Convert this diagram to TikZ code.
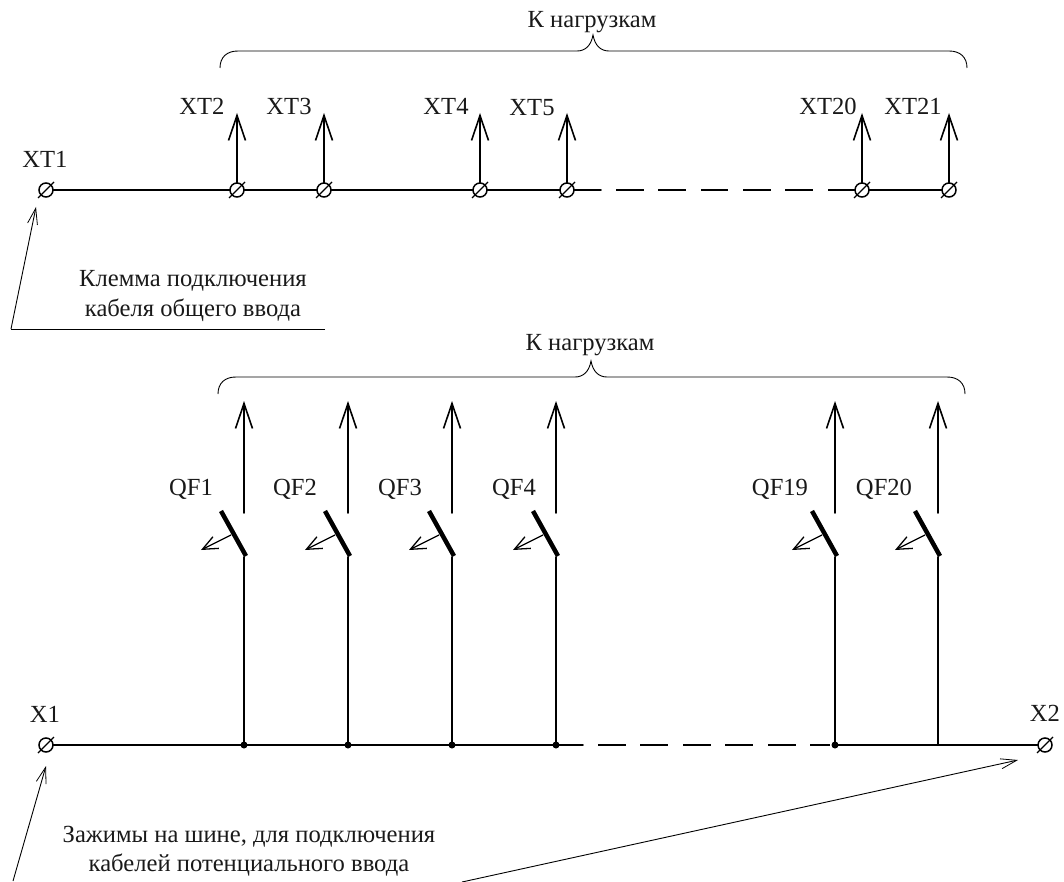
\documentclass[tikz,border=0pt]{standalone}
\usepackage{fontspec}
\setmainfont{Liberation Serif}
\usetikzlibrary{arrows.meta}
\tikzset{
  wire/.style={line width=1.8pt,line cap=round},
  load/.style={wire,-{Straight Barb[length=25pt,width=17pt,line width=1.6pt]}},
  leader/.style={line width=0.9pt,-{Straight Barb[length=16pt,width=10pt,line width=0.8pt]}},
  plain leader/.style={line width=0.9pt},
  term/.style={circle,draw,line width=1.5pt,minimum size=14pt,inner sep=0pt,fill=white},
  dot/.style={circle,fill=black,minimum size=7pt,inner sep=0pt},
  lab/.style={font=\fontsize{24.6pt}{29pt}\selectfont,inner sep=0pt,text=black!90},
  captext/.style={font=\fontsize{24.6pt}{29.5pt}\selectfont,inner sep=0pt,align=center,text=black!90},
  blade/.style={line width=4.5pt},
  trip/.style={line width=1.3pt,-{Straight Barb[length=15pt,width=13pt,line width=1.3pt]}}
}
\newcommand{\brc}[4]{% left x, right x, center x, top y
  \draw[line width=0.9pt] (#1,#4+17) .. controls (#1,#4+6) and (#1+7,#4) .. (#1+18,#4)
    -- (#3-16,#4) .. controls (#3-8,#4) and (#3-2,#4-5) .. (#3,#4-16)
    .. controls (#3+2,#4-5) and (#3+8,#4) .. (#3+16,#4)
    -- (#2-18,#4) .. controls (#2-7,#4) and (#2,#4+6) .. (#2,#4+17);}
\begin{document}
\begin{tikzpicture}[x=1pt,y=-1pt]
\useasboundingbox (0,0) rectangle (1064,882);
% top bus
\foreach \n/\x in {xt1/46,xt2/237,xt3/324,xt4/480,xt5/567,xt20/862,xt21/949}
  \coordinate (p\n) at (\x,190);
\draw[wire] (pxt1) -- (601,190);
\draw[wire] (pxt20) -- (pxt21);
\foreach \a/\b in {616/643.7,658/686,701/728,743/771,785/813,828/862}
  \draw[line width=1.8pt] (\a,190) -- (\b,190);
\foreach \n/\x in {xt2/237,xt3/324,xt4/480,xt5/567,xt20/862,xt21/949} {
  \coordinate (a\n) at (\x,113);
  \draw[load] (p\n) -- (a\n);
}
\foreach \n/\x in {xt1/46,xt2/237,xt3/324,xt4/480,xt5/567,xt20/862,xt21/949} {
  \node[term] (t\n) at (p\n) {};
  \draw[line width=1.3pt] (\x-8,198) -- (\x+8,182);
}
\node[lab] (lxt1) at (45,159) {ХТ1};
\node[lab] (lxt2) at (202,106) {ХТ2};
\node[lab] (lxt3) at (289,106) {ХТ3};
\node[lab] (lxt4) at (446,106) {ХТ4};
\node[lab] (lxt5) at (532,108) {ХТ5};
\node[lab] (lxt20) at (828,106) {ХТ20};
\node[lab] (lxt21) at (913,106) {ХТ21};
\brc{220}{967}{593}{51}
\node[lab] (k1) at (592,22) {К нагрузкам};
\node[captext] (c1) at (193,296) {Клемма подключения\\кабеля общего ввода};
\coordinate (c1a) at (325,329);
\coordinate (c1b) at (11,329);
\coordinate (c1c) at (36,207);
\draw[plain leader] (c1a) -- (c1b);
\draw[leader] (c1b) -- (c1c);
% bottom bus
\brc{218}{965}{591}{377}
\node[lab] (k2) at (590,345) {К нагрузкам};
\coordinate (x1) at (46,745);
\coordinate (x2) at (1045,745);
\foreach \a/\b in {598/626,640/668,683/711,725/753,768/796,810/830}
  \draw[line width=1.8pt] (\a,745) -- (\b,745);
\draw[wire] (x1) -- (583,745);
\draw[wire] (835,745) -- (x2);
\foreach \n/\x/\l/\lx in {1/244/QF1/191,2/348/QF2/295,3/452/QF3/400,4/556/QF4/514,19/835/QF19/780,20/938/QF20/884} {
  \coordinate (b\n) at (\x,745);
  \coordinate (s\n) at (\x,557);
  \coordinate (u\n) at (\x,513);
  \coordinate (v\n) at (\x,401);
  \coordinate (f\n) at (\x-23,511);
  \coordinate (g\n) at (\x+2,556);
  \coordinate (h\n) at (\x-13,535);
  \coordinate (i\n) at (\x-43,550);
  \draw[wire] (b\n) -- (s\n);
  \draw[load] (u\n) -- (v\n);
  \draw[blade] (f\n) -- (g\n);
  \draw[trip] (h\n) -- (i\n);
  \node[lab] (q\n) at (\lx,489) {\l};
}
\foreach \n in {1,2,3,4,19} \node[dot] (d\n) at (b\n) {};
\node[term] (tx1) at (x1) {};
\draw[line width=1.3pt] (38,753) -- (54,737);
\node[term] (tx2) at (x2) {};
\draw[line width=1.3pt] (1037,753) -- (1053,737);
\node[lab] (lx1) at (45,714) {Х1};
\node[lab] (lx2) at (1045,713) {Х2};
\node[captext] (c2) at (249,851) {Зажимы на шине, для подключения\\кабелей потенциального ввода};
\coordinate (e1) at (13,881);
\coordinate (e2) at (46,766);
\coordinate (e3) at (462,882);
\coordinate (e4) at (1018,760);
\draw[leader] (e1) -- (e2);
\draw[leader] (e3) -- (e4);
\end{tikzpicture}
\end{document}
